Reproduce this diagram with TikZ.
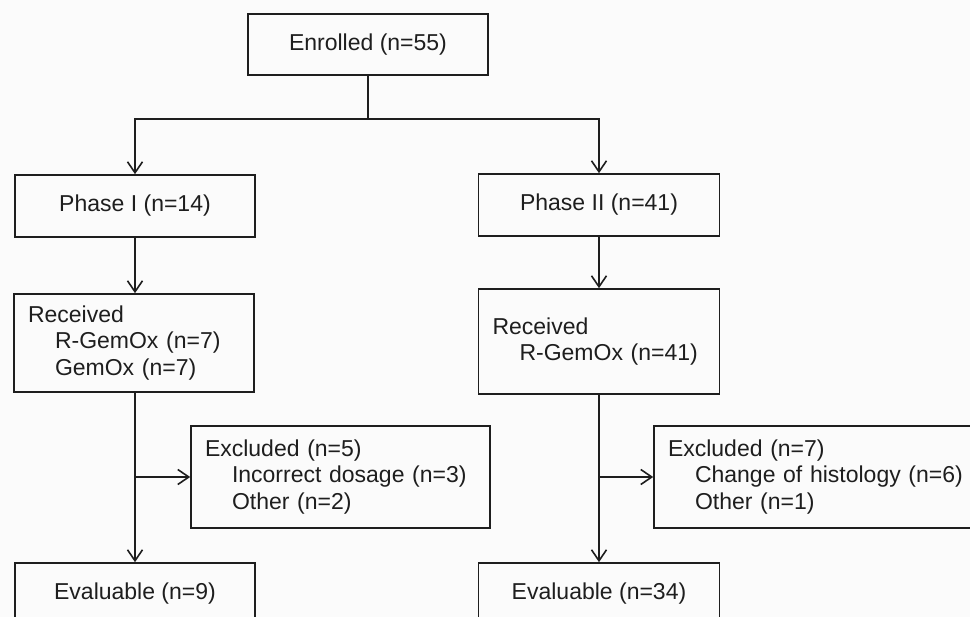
\documentclass[tikz,border=0pt]{standalone}
\usepackage{fontspec}
\setmainfont{Liberation Sans}
\usetikzlibrary{arrows.meta,calc}
\definecolor{bg}{RGB}{251,251,251}
\definecolor{ink}{RGB}{30,30,30}
\begin{document}
\begin{tikzpicture}[x=1pt,y=-1pt,
  box/.style={draw=ink, line width=1.6pt, rectangle, inner sep=0pt, text=ink,
    font=\fontsize{23}{26.7}\selectfont},
  lbox/.style={box, align=left, inner xsep=14pt, inner ysep=0pt},
  arr/.style={draw=ink, line width=1.6pt, -{Straight Barb[length=11pt,width=15pt]}},
  conn/.style={draw=ink, line width=1.6pt}
]
\useasboundingbox (0,0) rectangle (970,617);
\fill[bg] (0,0) rectangle (970,617);
\clip (0,0) rectangle (970,617);

\node[box, minimum width=240pt, minimum height=61pt] (enr) at (368,44.5) {Enrolled (n=55)};
\node[box, minimum width=240pt, minimum height=62pt] (p1) at (135,206) {Phase I (n=14)};
\node[box, minimum width=241pt, minimum height=62pt] (p2) at (599,205) {Phase II (n=41)};

\node[lbox, text width=212pt, minimum height=98pt] (r1) at (134,343)
  {Received\\\hspace*{27pt}R-GemOx (n=7)\\\hspace*{27pt}GemOx (n=7)};
\node[lbox, text width=213pt, minimum height=105pt] (r2) at (599,341.5)
  {Received\\\hspace*{27pt}R-GemOx (n=41)};

\node[lbox, text width=271pt, minimum height=102pt] (x1) at (340.5,477)
  {Excluded (n=5)\\\hspace*{27pt}Incorrect dosage (n=3)\\\hspace*{27pt}Other (n=2)};
\node[lbox, text width=303pt, minimum height=102pt] (x2) at (819.5,477)
  {Excluded (n=7)\\\hspace*{27pt}Change of histology (n=6)\\\hspace*{27pt}Other (n=1)};

\node[box, minimum width=240pt, minimum height=62pt] (e1) at (135,594) {Evaluable (n=9)};
\node[box, minimum width=241pt, minimum height=62pt] (e2) at (599,594) {Evaluable (n=34)};

\coordinate (split) at (368,119);
\draw[conn] (enr.south) -- (split);
\draw[arr] (split) -| (p1.north);
\draw[arr] (split) -| (p2.north);
\draw[arr] (p1.south) -- (p1.south |- r1.north);
\draw[arr] (p2.south) -- (r2.north);
\draw[arr] (e1.north |- r1.south) -- (e1.north);
\draw[arr] (r2.south) -- (e2.north);
\coordinate (b1) at (e1.north |- x1.west);
\coordinate (b2) at (e2.north |- x2.west);
\draw[arr] (b1) -- (x1.west);
\draw[arr] (b2) -- (x2.west);
\end{tikzpicture}
\end{document}
